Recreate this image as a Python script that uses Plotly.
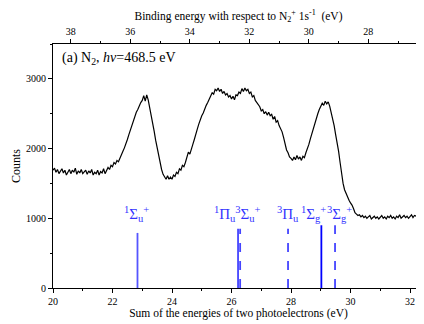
import numpy as np
import plotly.graph_objects as go

# Spectrum: sum of energies (eV) sampled every 0.05 eV from 20.00
energy_start = 20.0
energy_step = 0.05
counts = [
    1690, 1720, 1660, 1700, 1640, 1680, 1710, 1650, 1690, 1620,
    1670, 1700, 1640, 1690, 1660, 1720, 1630, 1680, 1650, 1700,
    1640, 1670, 1690, 1630, 1680, 1650, 1700, 1620, 1660, 1640,
    1690, 1620, 1670, 1650, 1710, 1640, 1690, 1730, 1700, 1760,
    1740, 1800, 1780, 1830, 1810, 1870, 1900, 1960, 2010, 2060,
    2130, 2200, 2270, 2320, 2400, 2450, 2520, 2560, 2620, 2660,
    2690, 2760, 2680, 2770, 2700, 2600, 2500, 2380, 2250, 2120,
    2000, 1890, 1780, 1700, 1630, 1590, 1560, 1610, 1560, 1590,
    1560, 1620, 1600, 1660, 1640, 1710, 1690, 1760, 1740, 1800,
    1870, 1950, 1920, 2010, 2060, 2130, 2220, 2280, 2350, 2420,
    2470, 2510, 2580, 2620, 2660, 2700, 2760, 2800, 2780, 2850,
    2830, 2870, 2820, 2850, 2790, 2820, 2770, 2790, 2740, 2760,
    2710, 2750, 2700, 2770, 2760, 2810, 2790, 2860, 2820, 2870,
    2830, 2850, 2790, 2810, 2740, 2760, 2690, 2660, 2620, 2600,
    2540, 2560, 2500, 2530, 2480, 2520, 2470, 2490, 2420, 2460,
    2380, 2400, 2330, 2280, 2240, 2160, 2060, 1980, 1940, 1880,
    1860, 1830, 1880, 1840, 1900, 1850, 1880, 1830, 1890, 1870,
    1940, 1990, 2060, 2140, 2220, 2300, 2370, 2440, 2500, 2560,
    2600, 2650, 2620, 2680, 2640, 2670, 2610, 2530, 2440, 2330,
    2200, 2090, 1960, 1800, 1640, 1500, 1410, 1350, 1300, 1260,
    1220, 1190, 1140, 1080, 1060, 1040, 1050, 1020, 1040, 1010,
    1030, 1000, 1020, 1040, 990, 1010, 1030, 1000, 1020, 990,
    1010, 1040, 1000, 1020, 990, 1030, 1010, 1040, 1000, 1020,
    990, 1030, 1010, 1050, 1000, 1020, 1040, 1010, 1030, 1000,
    1020, 1050, 1010, 1040, 1030, 1060, 1020, 1050, 1030, 1040,
]
energies = np.round(energy_start + energy_step * np.arange(len(counts)), 3)

# Calculated states (stick lines)
state_labels = ["<sup>1</sup>Σ<sub>u</sub><sup>+</sup>", "", "<sup>1</sup>Π<sub>u</sub><sup>3</sup>Σ<sub>u</sub><sup>+</sup>",
                "<sup>3</sup>Π<sub>u</sub>", "<sup>1</sup>Σ<sub>g</sub><sup>+</sup>", "<sup>3</sup>Σ<sub>g</sub><sup>+</sup>"]
state_energies = [22.84, 26.22, 26.29, 27.9, 29.02, 29.48]
state_heights = [790, 850, 850, 850, 900, 900]
state_dash = ["solid", "solid", "dash", "dash", "solid", "dash"]
state_colors = ["#5555ff", "#4444ff", "#4444ff", "#4444ff", "#0000ff", "#4444ff"]
label_x = [22.82, None, 26.2, 27.9, 28.75, 29.62]

BE_OFFSET = 58.6  # binding energy = 58.6 - sum
X_RANGE = [20, 32.47]

fig = go.Figure()
fig.add_trace(go.Scatter(x=energies, y=counts, mode="lines",
                         line=dict(color="black", width=1.2), showlegend=False))
for e, h, d, c in zip(state_energies, state_heights, state_dash, state_colors):
    fig.add_trace(go.Scatter(x=[e, e], y=[0, h], mode="lines",
                             line=dict(color=c, width=1.8, dash=d), showlegend=False))
# dummy trace for top axis
fig.add_trace(go.Scatter(x=[BE_OFFSET - X_RANGE[0]], y=[None], xaxis="x2",
                         showlegend=False, hoverinfo="skip"))

serif = "Liberation Serif, Times New Roman, serif"
for lab, lx in zip(state_labels, label_x):
    if not lab:
        continue
    fig.add_annotation(x=lx, y=1060, text=lab, showarrow=False,
                       font=dict(family=serif, size=15, color="#3333ff"),
                       xanchor="center", yanchor="middle")

fig.add_annotation(x=0.02, y=0.985, xref="paper", yref="paper",
                   text="(a) N<sub>2</sub>, <i>hν</i>=468.5 eV", showarrow=False,
                   xanchor="left", yanchor="top", font=dict(family=serif, size=14, color="black"))

axis_common = dict(showline=True, linecolor="black", linewidth=1, ticks="outside",
                   ticklen=4, tickcolor="black", showgrid=False, zeroline=False,
                   tickfont=dict(family=serif, size=10, color="black"))

fig.update_layout(
    width=416, height=316,
    margin=dict(l=45, r=0, t=36, b=36),
    paper_bgcolor="white", plot_bgcolor="white",
    font=dict(family=serif, color="black"),
    xaxis=dict(range=X_RANGE, dtick=2, tick0=20,
               minor=dict(dtick=1, ticks="outside", ticklen=2, tickcolor="black"),
               title=dict(text="Sum of the energies of two photoelectrons (eV)",
                          font=dict(family=serif, size=11.5), standoff=2),
               **axis_common),
    xaxis2=dict(range=[BE_OFFSET - X_RANGE[0], BE_OFFSET - X_RANGE[1]], overlaying="x",
                side="top", dtick=2, tick0=28,
                minor=dict(dtick=1, ticks="outside", ticklen=2, tickcolor="black"),
                title=dict(text="Binding energy with respect to N<sub>2</sub><sup>+</sup> 1s<sup>-1</sup>  (eV)",
                           font=dict(family=serif, size=11.5), standoff=4),
                **axis_common),
    yaxis=dict(range=[0, 3500], dtick=1000,
               minor=dict(dtick=500, ticks="outside", ticklen=2, tickcolor="black"),
               title=dict(text="Counts", font=dict(family=serif, size=12), standoff=2),
               **axis_common),
)

fig.write_html("out.html")
